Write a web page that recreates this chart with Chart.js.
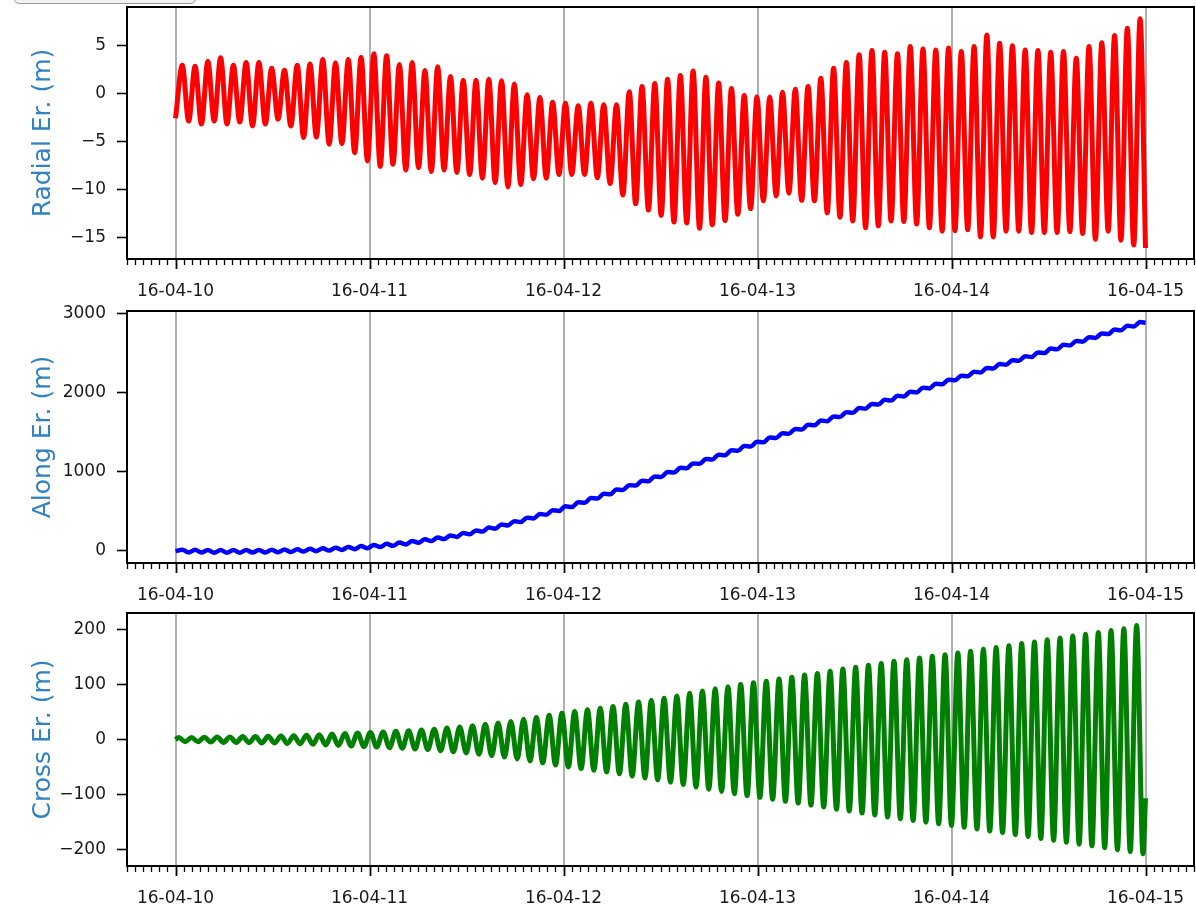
<!DOCTYPE html>
<html>
<head>
<meta charset="utf-8">
<script src="https://cdn.jsdelivr.net/npm/chart.js@4.4.0/dist/chart.umd.min.js"></script>
<style>
  html, body { margin: 0; padding: 0; background: #ffffff; }
  #wrap { position: relative; width: 1196px; height: 908px; overflow: hidden; background: #fff; }
  canvas { position: absolute; left: 0; }
  #btn { position: absolute; left: 14px; top: -22px; width: 182px; height: 26px; border: 1px solid #9a9a9a; border-radius: 5px; background: #f2f2f2; box-sizing: border-box; }
</style>
</head>
<body>
<div id="wrap">
  <div id="btn"></div>
  <canvas id="c1" width="1196" height="300" style="top:0px"></canvas>
  <canvas id="c2" width="1196" height="305" style="top:300px"></canvas>
  <canvas id="c3" width="1196" height="303" style="top:605px"></canvas>
</div>
<script>
// ---- x axis (days after 16-04-10) ----
const X_LABELS = ['16-04-10', '16-04-11', '16-04-12', '16-04-13', '16-04-14', '16-04-15'];
const ORBIT_DAYS = 0.06583;      // one oscillation period
const RADIAL_PHASE = 0.035;      // time of first radial maximum (days)
const CROSS_PHASE = 0.017;       // time of first cross-track maximum (days)

// ---- Radial error (m): value at start, maxima and minima of each oscillation ----
const RADIAL_START = -2.6;
const RADIAL_PEAKS = [2.9,2.8,3.3,3.7,2.9,3.2,3.2,2.6,2.4,2.9,
  3.05,3.5,3.15,3.5,3.75,4.1,3.9,3.0,3.2,2.35,
  2.75,1.75,1.35,1.35,1.45,1.3,0.95,-0.15,-0.45,-0.95,
  -1.05,-1.3,-1.05,-1.2,-1.2,0.15,0.7,1.0,1.45,1.85,
  2.3,1.65,1.05,0.5,-0.25,-0.4,-0.4,0.1,0.4,0.7,
  1.55,2.6,3.2,4.0,4.45,4.25,4.1,4.85,4.6,4.5,
  4.7,4.35,4.85,6.05,5.2,4.95,4.5,4.45,4.25,4.35,
  3.65,4.85,5.25,6.0,6.75,7.75];
const RADIAL_TROUGHS = [-2.9,-3.2,-2.9,-3.2,-3.0,-3.4,-3.2,-2.7,-3.4,-4.6,
  -4.55,-5.3,-5.25,-6.2,-7.05,-7.6,-7.4,-8.0,-7.75,-8.15,
  -8.0,-8.25,-8.45,-8.85,-9.3,-9.75,-9.5,-8.9,-8.85,-8.45,
  -8.45,-8.45,-8.8,-9.4,-10.6,-11.5,-12.15,-12.7,-13.4,-13.5,
  -14.05,-13.7,-13.25,-12.6,-12.0,-11.2,-10.7,-10.4,-11.15,-11.2,
  -12.45,-12.9,-13.3,-14.0,-13.8,-13.3,-13.35,-13.6,-14.0,-14.35,
  -14.3,-14.2,-14.95,-14.95,-14.35,-14.35,-14.5,-14.5,-14.5,-14.4,
  -14.6,-15.2,-14.35,-15.3,-15.8,-16.1];

// ---- Along-track error (m) ----
const ALONG_START = -5;
const ALONG_PEAKS = [12,11,10,9,9,9,10,12,15,19,
  25,31,39,48,59,72,87,104,123,144,
  167,193,224,257,293,332,374,418,464,512,
  561,612,665,719,774,829,884,939,994,1049,
  1104,1159,1214,1269,1323,
  1377,1431,1485,1539,1592,1645,1698,1751,1803,1855,
  1907,1958,2009,2060,2111,2162,2212,2262,2311,2360,
  2409,2458,2507,2555,2603,2651,2699,2747,2795,2843,2891];
const ALONG_TROUGHS = [-22,-23,-24,-24,-24,-23,-22,-20,-16,-11,
  -5,2,10,20,32,46,62,80,100,122,
  147,175,207,242,279,320,363,408,455,503,
  553,605,659,713,768,823,878,933,988,1043,
  1098,1153,1208,1263,1317,
  1371,1425,1479,1532,1585,1638,1691,1744,1796,1848,
  1899,1950,2001,2052,2103,2154,2204,2253,2302,2351,
  2400,2449,2498,2546,2594,2642,2690,2738,2786,2834,
  2880];

// ---- Cross-track error (m) ----
const CROSS_START = 0;
const CROSS_END = -106;
const CROSS_PEAKS = [4,4,4.5,5,5,5.5,5.5,6,6.5,7,
  8,9,10,11,12,13,14,15,16,17.5,
  19,21,23,25,28,30,33,37,40,44,
  48,51,54,57,60,64,68,71,75,79,
  84,88,92,96,100,103,106,110,113,117,
  120,124,128,131,135,138,142,145,148,151,
  154,157,160,164,167,170,174,177,181,184,
  188,191,194,198,201,207];
const CROSS_TROUGHS = [-4,-4,-4.5,-5,-5,-5.5,-6,-6,-7,-7.5,
  -8.5,-9.5,-10.5,-11.5,-12.5,-13.5,-14.5,-15.5,-17,-18,
  -20,-22,-24,-26.5,-29,-31.5,-35,-38.5,-42,-46,
  -49.5,-52.5,-55.5,-58.5,-62,-66,-69.5,-73,-77,-81.5,
  -86,-90,-94,-98,-101.5,-104.5,-108,-111.5,-115,-118.5,
  -122,-126,-129.5,-133,-136.5,-140,-143.5,-146.5,-149.5,-152.5,
  -155.5,-158.5,-162,-165.5,-168.5,-172,-175.5,-179,-182.5,-186,
  -189.5,-192.5,-196,-199.5,-203,-207];

const Y_TICKS_RADIAL = [-15, -10, -5, 0, 5];
const Y_TICKS_ALONG = [0, 1000, 2000, 3000];
const Y_TICKS_CROSS = [-200, -100, 0, 100, 200];

// Build (x,y) point lists: extremum values at their times
function buildSeries(start, peaks, troughs, phase, endVal) {
  const last = X_LABELS.length - 1;
  const pts = [{x: 0, y: start}];
  peaks.forEach((p, k) => {
    const t = phase + k * ORBIT_DAYS;
    pts.push({x: t, y: p});
    if (k < troughs.length) pts.push({x: Math.min(t + ORBIT_DAYS / 2, last), y: troughs[k]});
  });
  if (endVal !== undefined) pts.push({x: last, y: endVal});
  return pts;
}

const TICK_FONT = {family: 'DejaVu Sans', size: 17};
const TICK_COLOR = '#1a1a1a';
const LABEL_COLOR = '#3182c0';

const framePlugin = {
  id: 'frame',
  afterDraw(chart) {
    const {ctx, chartArea: a, scales} = chart;
    const xs = scales.x;
    ctx.save();
    ctx.strokeStyle = '#000';
    for (let h = -6; h <= (X_LABELS.length - 1) * 24 + 6; h++) {
      const px = Math.round(xs.getPixelForValue(h / 24)) + 0.5;
      if (px < a.left - 0.5 || px > a.right + 0.5) continue;
      const len = (h % 24 === 0) ? 10 : 6;
      ctx.lineWidth = (h % 24 === 0) ? 1.8 : 1.3;
      ctx.beginPath();
      ctx.moveTo(px, a.bottom);
      ctx.lineTo(px, a.bottom + len);
      ctx.stroke();
    }
    ctx.lineWidth = 2;
    ctx.strokeRect(a.left, a.top, a.right - a.left, a.bottom - a.top);
    ctx.restore();
  }
};

function noPad(s) { s.paddingLeft = 0; s.paddingRight = 0; s.paddingTop = 0; s.paddingBottom = 0; }

function makeChart(id, padTop, xHeight, pts, color, yMin, yMax, yTicks, title, lw) {
  return new Chart(document.getElementById(id), {
    type: 'line',
    data: {datasets: [{data: pts, borderColor: color, backgroundColor: color,
      borderWidth: lw, pointRadius: 0, fill: false, cubicInterpolationMode: 'monotone'}]},
    options: {
      responsive: false, animation: false, devicePixelRatio: 1,
      layout: {padding: {top: padTop, right: 2, left: 0, bottom: 0}},
      plugins: {legend: {display: false}, tooltip: {enabled: false}},
      scales: {
        x: {
          type: 'linear', min: -0.25, max: X_LABELS.length - 1 + 0.25,
          afterBuildTicks: s => { s.ticks = X_LABELS.map((_, i) => ({value: i})); },
          afterFit: s => { s.height = xHeight; noPad(s); },
          ticks: {font: TICK_FONT, color: TICK_COLOR, padding: 22, maxRotation: 0, autoSkip: false,
            callback: v => X_LABELS[Math.round(v)]},
          grid: {display: true, drawOnChartArea: true, drawTicks: false, color: '#b0b0b0', lineWidth: 2},
          border: {display: false}
        },
        y: {
          type: 'linear', min: yMin, max: yMax,
          afterBuildTicks: s => { s.ticks = yTicks.map(v => ({value: v})); },
          afterFit: s => { s.width = 127; noPad(s); },
          ticks: {font: TICK_FONT, color: TICK_COLOR, padding: 11,
            callback: v => String(v).replace('-', '\u2212')},
          grid: {display: true, drawOnChartArea: false, drawTicks: true, tickLength: 10,
            tickColor: '#000', tickWidth: 1.6},
          border: {display: false},
          title: {display: true, text: title, color: LABEL_COLOR,
            font: {family: 'DejaVu Sans', size: 25}, padding: {top: 28, bottom: 0}}
        }
      }
    },
    plugins: [framePlugin]
  });
}

makeChart('c1', 7, 41, buildSeries(RADIAL_START, RADIAL_PEAKS, RADIAL_TROUGHS, RADIAL_PHASE),
  '#ff0000', -17.25, 8.97, Y_TICKS_RADIAL, 'Radial Er. (m)', 5);
makeChart('c2', 11, 42, buildSeries(ALONG_START, ALONG_PEAKS, ALONG_TROUGHS, RADIAL_PHASE),
  '#0000ff', -155, 3030, Y_TICKS_ALONG, 'Along Er. (m)', 4.5);
makeChart('c3', 8, 42, buildSeries(CROSS_START, CROSS_PEAKS, CROSS_TROUGHS, CROSS_PHASE, CROSS_END),
  '#008000', -229, 229.5, Y_TICKS_CROSS, 'Cross Er. (m)', 5);
</script>
</body>
</html>
